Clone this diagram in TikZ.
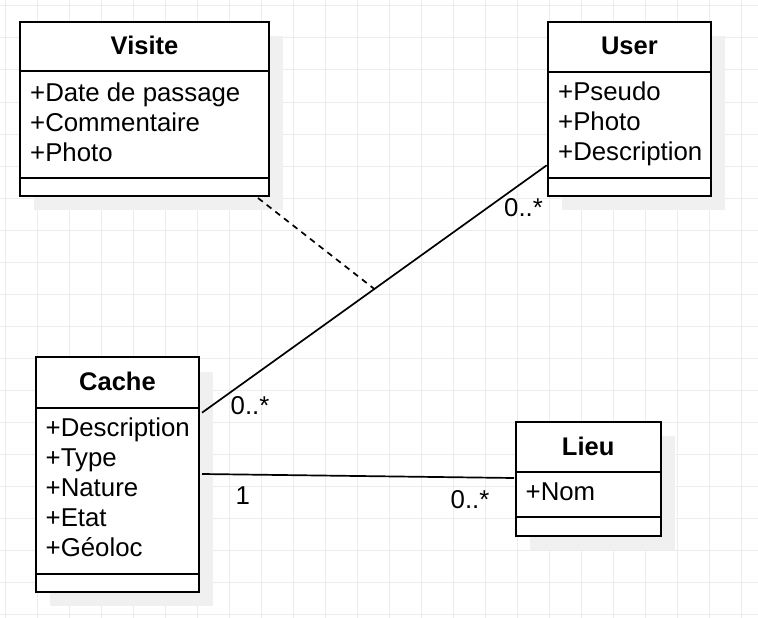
\documentclass[tikz,border=0pt]{standalone}
\usepackage{fontspec}
\setmainfont{Liberation Sans}
\usetikzlibrary{calc}
\definecolor{gridc}{RGB}{236,236,236}
\definecolor{shadowc}{RGB}{240,240,240}
\tikzset{
  gridline/.style={draw=gridc, line width=1pt},
  shadowbox/.style={fill=shadowc, draw=none},
  classbox/.style={draw=black, line width=2pt, fill=white, inner sep=0pt, outer sep=0pt, anchor=north west},
  divider/.style={draw=black, line width=2pt},
  title/.style={anchor=base, inner sep=0pt, font=\fontsize{25.5}{30}\selectfont\bfseries},
  attr/.style={anchor=base west, inner sep=0pt, align=left, font=\fontsize{25.8}{30}\selectfont},
  mult/.style={anchor=base west, inner sep=0pt, font=\fontsize{25.8}{30}\selectfont},
  assoc/.style={draw=black, line width=1.7pt},
  dashlink/.style={draw=black, line width=1.7pt, dash pattern=on 6pt off 5pt},
}
\begin{document}
\begin{tikzpicture}[x=1pt, y=-1pt]
\useasboundingbox (0,0) rectangle (758,618);
\fill[white] (0,0) rectangle (758,618);
% grid
\foreach \gx in {5,37,...,757} \draw[gridline] (\gx,0) -- (\gx,618);
\foreach \gy in {6,38,...,617} \draw[gridline] (0,\gy) -- (758,\gy);

% shadows
\fill[shadowbox] (34,36) rectangle (283,210);
\fill[shadowbox] (562,36) rectangle (725,210);
\fill[shadowbox] (50,372) rectangle (213,606);
\fill[shadowbox] (530,436) rectangle (675,550);

% Visite
\node[classbox, minimum width=249pt, minimum height=174pt] (visite) at (20,22) {};
\draw[divider] (20,71.5) -- (269,71.5);
\draw[divider] (20,178) -- (269,178);
\node[title] (visiteT) at (144.5,54.3) {Visite};
\node[attr] (v1) at (30,101) {+Date de passage};
\node[attr] (v2) at (30,131) {+Commentaire};
\node[attr] (v3) at (30,161) {+Photo};

% User
\node[classbox, minimum width=163.3pt, minimum height=174pt] (user) at (547.7,21.7) {};
\draw[divider] (547.7,71.7) -- (711,71.7);
\draw[divider] (547.7,178.3) -- (711,178.3);
\node[title] (userT) at (629.4,54.3) {User};
\node[attr] (u1) at (558,100.7) {+Pseudo};
\node[attr] (u2) at (558,130.7) {+Photo};
\node[attr] (u3) at (558,160.7) {+Description};

% Cache
\node[classbox, minimum width=163.6pt, minimum height=234.4pt] (cache) at (35.7,357.3) {};
\draw[divider] (35.7,408.3) -- (199.3,408.3);
\draw[divider] (35.7,574) -- (199.3,574);
\node[title] (cacheT) at (117.5,390.7) {Cache};
\node[attr] (c1) at (45.5,436.7) {+Description};
\node[attr] (c2) at (45.5,466.7) {+Type};
\node[attr] (c3) at (45.5,496.7) {+Nature};
\node[attr] (c4) at (45.5,526.7) {+Etat};
\node[attr] (c5) at (45.5,556.7) {+Géoloc};

% Lieu
\node[classbox, minimum width=145pt, minimum height=113.7pt] (lieu) at (515.7,422) {};
\draw[divider] (515.7,471.7) -- (660.7,471.7);
\draw[divider] (515.7,517.3) -- (660.7,517.3);
\node[title] (lieuT) at (588.2,455) {Lieu};
\node[attr] (l1) at (525.5,500.7) {+Nom};

% connector end points
\coordinate (cacheU) at (202,412.7);
\coordinate (userC) at (546.7,165.3);
\coordinate (cacheL) at (202,474);
\coordinate (lieuC) at (514,478);
\coordinate (visiteB) at (258,198);
\coordinate (mid) at ($(cacheU)!0.5!(userC)$);

\draw[assoc] (cacheU) -- (userC);
\draw[assoc] (cacheL) -- (lieuC);
\draw[dashlink] (visiteB) -- (mid);

% multiplicities
\node[mult] (m1) at (504,216.7) {0..*};
\node[mult] (m2) at (230.5,414.3) {0..*};
\node[mult] (m3) at (235.5,504) {1};
\node[mult] (m4) at (450.5,508.3) {0..*};
\end{tikzpicture}
\end{document}
